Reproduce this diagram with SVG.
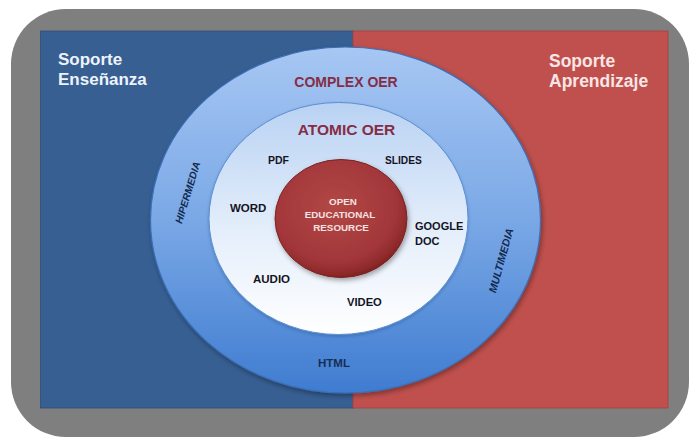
<svg xmlns="http://www.w3.org/2000/svg" width="690" height="438" viewBox="0 0 690 438">
  <defs>
    <linearGradient id="ringGrad" x1="0" y1="0" x2="0" y2="1">
      <stop offset="0" stop-color="#a7c7f3"/>
      <stop offset="0.5" stop-color="#7aa8e6"/>
      <stop offset="1" stop-color="#3f7cd0"/>
    </linearGradient>
    <linearGradient id="midGrad" x1="0" y1="0" x2="0" y2="1">
      <stop offset="0" stop-color="#b9d2f3"/>
      <stop offset="0.55" stop-color="#e4eefb"/>
      <stop offset="1" stop-color="#ffffff"/>
    </linearGradient>
    <radialGradient id="redGrad" cx="0.45" cy="0.4" r="0.62">
      <stop offset="0" stop-color="#b24845"/>
      <stop offset="0.75" stop-color="#a2363a"/>
      <stop offset="0.92" stop-color="#8e2a2a"/>
      <stop offset="1" stop-color="#7a1f1e"/>
    </radialGradient>
    <filter id="shadow" x="-20%" y="-20%" width="140%" height="140%">
      <feDropShadow dx="1.5" dy="2.5" stdDeviation="2.5" flood-color="#000000" flood-opacity="0.35"/>
    </filter>
    <filter id="softShadow" x="-10%" y="-10%" width="120%" height="120%">
      <feDropShadow dx="0" dy="1.5" stdDeviation="1.5" flood-color="#1d3f73" flood-opacity="0.35"/>
    </filter>
  </defs>
  <style>
    .panelTxt { font-family: "Liberation Sans", Arial, sans-serif; font-weight: bold; font-size: 17px; }
    .oer { font-family: "Liberation Sans", Arial, sans-serif; font-weight: bold; fill: #862d45; text-anchor: middle; }
    .item { font-family: "Liberation Sans", Arial, sans-serif; font-weight: bold; font-size: 11px; fill: #14141e; }
    .ring { font-family: "Liberation Sans", Arial, sans-serif; font-weight: bold; font-style: italic; fill: #132a4e; text-anchor: middle; }
    .core { font-family: "Liberation Sans", Arial, sans-serif; font-weight: bold; font-size: 9.8px; fill: #f6e3e2; text-anchor: middle; }
  </style>

  <g id="frame">
    <rect x="11" y="9" width="678" height="428" rx="55" ry="55" fill="#7f7f7f"/>
  </g>

  <g id="panel-ensenanza">
    <rect x="40.5" y="31" width="313" height="377" fill="#375f92" stroke="#2e4f7a" stroke-width="0.8"/>
    <text class="panelTxt" fill="#eef3fa" x="58" y="65">Soporte</text>
    <text class="panelTxt" fill="#eef3fa" x="58" y="85">Enseñanza</text>
  </g>

  <g id="panel-aprendizaje">
    <rect x="353" y="31" width="315" height="377" fill="#c0504d" stroke="#a3403e" stroke-width="0.8"/>
    <text class="panelTxt" fill="#f7e6e5" x="549" y="67" style="font-size:17.5px">Soporte</text>
    <text class="panelTxt" fill="#f7e6e5" x="549" y="87" style="font-size:17.5px">Aprendizaje</text>
  </g>

  <g id="complex-oer">
    <ellipse cx="345.5" cy="220" rx="195" ry="173" fill="url(#ringGrad)" stroke="#3b6fb8" stroke-width="1.2" filter="url(#shadow)"/>
    <text class="oer" x="346" y="87" style="font-size:14px">COMPLEX OER</text>
    <text class="ring" transform="translate(187.5,192.5) rotate(-73)" x="0" y="3.8" style="font-size:10.2px">HIPERMEDIA</text>
    <text class="ring" transform="translate(501,260.5) rotate(-74.5)" x="0" y="3.8" style="font-size:10.7px">MULTIMEDIA</text>
    <text class="item" x="318" y="367" style="font-size:11.5px;fill:#162e55">HTML</text>
  </g>

  <g id="atomic-oer">
    <ellipse cx="338.5" cy="218.5" rx="129.5" ry="116" fill="url(#midGrad)" stroke="#5b8fd3" stroke-width="1" filter="url(#softShadow)"/>
    <text class="oer" x="346.5" y="135" style="font-size:15.5px">ATOMIC OER</text>
    <text class="item" x="268" y="164" style="font-size:10.5px">PDF</text>
    <text class="item" x="385" y="164" style="font-size:10.2px">SLIDES</text>
    <text class="item" x="230" y="212" style="font-size:11.5px">WORD</text>
    <text class="item" x="415" y="230">GOOGLE</text>
    <text class="item" x="415" y="245">DOC</text>
    <text class="item" x="253" y="283" style="font-size:11.5px">AUDIO</text>
    <text class="item" x="347" y="306" style="font-size:11.2px">VIDEO</text>
  </g>

  <g id="open-educational-resource">
    <ellipse cx="341" cy="218.5" rx="66" ry="59" fill="url(#redGrad)" stroke="#7a2422" stroke-width="1" filter="url(#shadow)"/>
    <text class="core" x="343" y="205">OPEN</text>
    <text class="core" x="340" y="218">EDUCATIONAL</text>
    <text class="core" x="341" y="231">RESOURCE</text>
  </g>

  <g id="connectors"/>
</svg>
